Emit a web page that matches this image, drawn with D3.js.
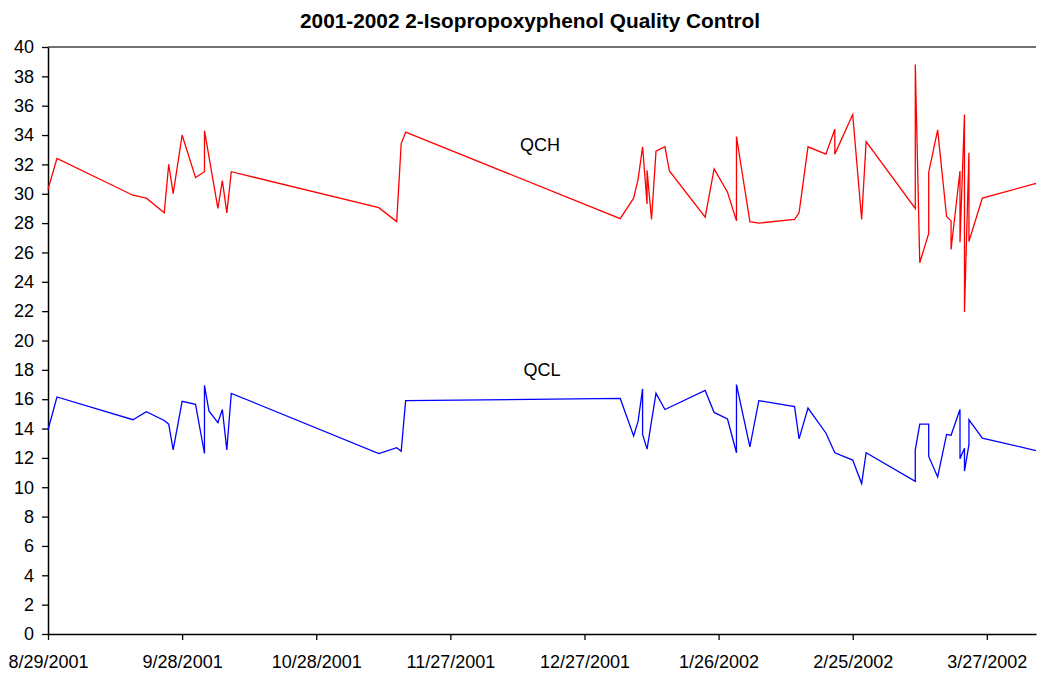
<!DOCTYPE html>
<html>
<head>
<meta charset="utf-8">
<script src="https://cdn.jsdelivr.net/npm/d3@7"></script>
<style>
  body { margin: 0; background: #fff; }
  svg { display: block; font-family: "Liberation Sans", Arial, sans-serif; }
</style>
</head>
<body>
<svg></svg>
<script>
var width = 1037;
var height = 675;

// QCH series (upper control sample)
var qchDates = ["8/29/2001","8/31/2001","9/17/2001","9/20/2001","9/24/2001","9/25/2001","9/26/2001","9/28/2001",
	"10/1/2001","10/3/2001","10/3/2001","10/6/2001","10/7/2001","10/8/2001","10/9/2001",
	"11/11/2001","11/15/2001","11/16/2001","11/17/2001",
	"1/4/2002","1/7/2002","1/8/2002","1/9/2002","1/10/2002","1/10/2002","1/11/2002","1/12/2002","1/14/2002","1/15/2002",
	"1/23/2002","1/25/2002","1/28/2002","1/30/2002","1/30/2002",
	"2/2/2002","2/4/2002","2/12/2002","2/13/2002","2/15/2002","2/19/2002","2/21/2002","2/21/2002","2/25/2002","2/27/2002","2/28/2002",
	"3/11/2002","3/11/2002","3/12/2002","3/14/2002","3/14/2002","3/16/2002","3/18/2002","3/19/2002","3/19/2002",
	"3/21/2002","3/21/2002","3/22/2002","3/22/2002","3/23/2002","3/23/2002","3/26/2002","4/7/2002"];
var qchValues = [30.3,32.4,29.9,29.7,28.7,32.0,30.0,34.0,
	31.1,31.5,34.3,29.0,30.9,28.7,31.5,
	29.05,28.1,33.4,34.2,
	28.3,29.7,31.0,33.2,29.3,31.6,28.25,32.9,33.2,31.55,
	28.4,31.7,30.1,28.15,33.9,
	28.1,28.0,28.25,28.7,33.2,32.7,34.4,32.7,35.4,28.25,33.55,
	29.0,38.8,25.3,27.3,31.45,34.35,28.45,28.15,26.2,
	31.55,26.7,35.4,21.95,32.8,26.75,29.7,30.7];

// QCL series (lower control sample)
var qclDates = ["8/29/2001","8/31/2001","9/17/2001","9/20/2001","9/24/2001","9/25/2001","9/26/2001","9/28/2001",
	"10/1/2001","10/3/2001","10/3/2001","10/4/2001","10/6/2001","10/7/2001","10/8/2001","10/9/2001",
	"11/11/2001","11/15/2001","11/16/2001","11/17/2001",
	"1/4/2002","1/7/2002","1/8/2002","1/9/2002","1/9/2002","1/10/2002","1/11/2002","1/12/2002","1/14/2002",
	"1/23/2002","1/25/2002","1/28/2002","1/30/2002","1/30/2002",
	"2/2/2002","2/4/2002","2/12/2002","2/13/2002","2/15/2002","2/19/2002","2/21/2002","2/25/2002","2/27/2002","2/28/2002",
	"3/11/2002","3/11/2002","3/12/2002","3/14/2002","3/14/2002","3/16/2002","3/18/2002","3/19/2002",
	"3/21/2002","3/21/2002","3/22/2002","3/22/2002","3/23/2002","3/23/2002","3/26/2002","4/7/2002"];
var qclValues = [13.9,16.15,14.6,15.15,14.55,14.3,12.55,15.85,
	15.65,12.3,16.95,15.2,14.4,15.3,12.55,16.4,
	12.3,12.7,12.45,15.9,
	16.05,13.5,14.5,16.7,13.6,12.6,14.5,16.4,15.3,
	16.6,15.1,14.65,12.35,17.0,
	12.75,15.9,15.5,13.3,15.4,13.7,12.35,11.85,10.25,12.35,
	10.4,12.55,14.3,14.3,12.1,10.7,13.6,13.55,
	15.3,11.95,12.65,11.1,12.9,14.6,13.35,12.5];

var xTickLabels = ["8/29/2001","9/28/2001","10/28/2001","11/27/2001","12/27/2001","1/26/2002","2/25/2002","3/27/2002"];
var yTicks = d3.range(0, 41, 2);
var seriesNames = ["QCH","QCL"];

var parseDate = d3.timeParse("%m/%d/%Y");
var fmtDate = d3.timeFormat("%-m/%-d/%Y");

var margin = {left: 48, right: 1, top: 47, bottom: 41};

var svg = d3.select('svg')
	.attr('width', width)
	.attr('height', height);

var x = d3.scaleTime()
	.domain([parseDate("8/29/2001"), parseDate("4/7/2002")])
	.range([margin.left, width - margin.right]);

var y = d3.scaleLinear()
	.domain([0, 40])
	.range([height - margin.bottom, margin.top]);

// title
svg.append('text')
	.attr('x', 530)
	.attr('y', 28)
	.attr('text-anchor', 'middle')
	.attr('font-size', '20.8px')
	.attr('font-weight', 'bold')
	.text("2001-2002 2-Isopropoxyphenol Quality Control");

// top frame line
svg.append('line')
	.attr('x1', x.range()[0])
	.attr('x2', x.range()[1])
	.attr('y1', y(40))
	.attr('y2', y(40))
	.attr('stroke', '#444')
	.attr('stroke-width', 1.5);

var xAxis = d3.axisBottom(x)
	.tickValues(xTickLabels.map(parseDate))
	.tickFormat(fmtDate)
	.tickSizeInner(6)
	.tickSizeOuter(0)
	.tickPadding(15);

var yAxis = d3.axisLeft(y)
	.tickValues(yTicks)
	.tickSizeInner(6)
	.tickSizeOuter(0)
	.tickPadding(8);

var gx = svg.append('g')
	.attr('transform', 'translate(0,' + y(0) + ')')
	.call(xAxis);
var gy = svg.append('g')
	.attr('transform', 'translate(' + x.range()[0] + ',0)')
	.call(yAxis);

[gx, gy].forEach(function(g) {
	g.selectAll('text')
		.attr('font-size', '18px')
		.attr('font-family', '"Liberation Sans", Arial, sans-serif')
		.attr('fill', '#000');
	g.selectAll('line').attr('stroke', '#000').attr('stroke-width', 1.3);
	g.select('.domain').attr('stroke', '#000').attr('stroke-width', 1.5);
});

var line = d3.line()
	.x(function(d) { return x(d[0]); })
	.y(function(d) { return y(d[1]); });

var qch = qchDates.map(function(d, i) { return [parseDate(d), qchValues[i]]; });
var qcl = qclDates.map(function(d, i) { return [parseDate(d), qclValues[i]]; });

svg.append('path')
	.datum(qch)
	.attr('d', line)
	.attr('fill', 'none')
	.attr('stroke', '#ff0000')
	.attr('stroke-width', 1.3)
	.attr('stroke-linejoin', 'miter');

svg.append('path')
	.datum(qcl)
	.attr('d', line)
	.attr('fill', 'none')
	.attr('stroke', '#0000ff')
	.attr('stroke-width', 1.3)
	.attr('stroke-linejoin', 'miter');

// series labels
svg.append('text')
	.attr('x', 540)
	.attr('y', 151)
	.attr('text-anchor', 'middle')
	.attr('font-size', '18px')
	.text(seriesNames[0]);

svg.append('text')
	.attr('x', 542)
	.attr('y', 376)
	.attr('text-anchor', 'middle')
	.attr('font-size', '18px')
	.text(seriesNames[1]);
</script>
</body>
</html>
